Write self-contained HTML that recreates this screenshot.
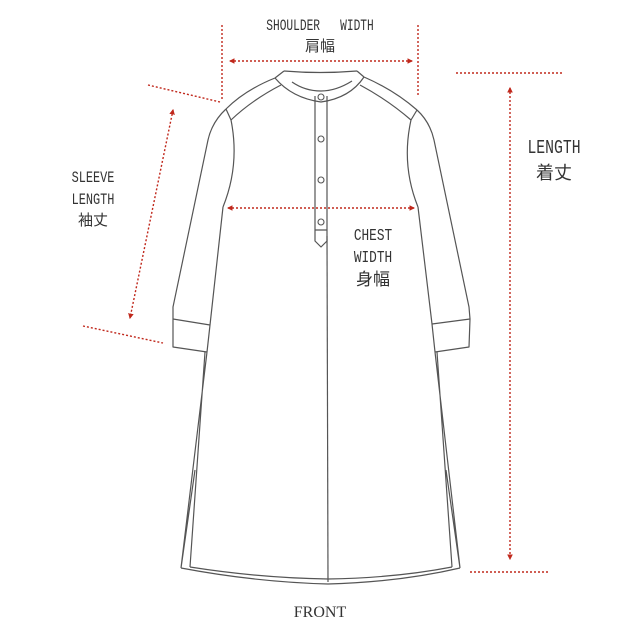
<!DOCTYPE html>
<html><head><meta charset="utf-8"><style>
html,body{margin:0;padding:0;background:#fff}
svg{display:block}
.t{font-family:"Liberation Mono",monospace;fill:#333;text-anchor:middle}
.s{font-family:"Liberation Serif",serif;fill:#333;text-anchor:middle}
.c{font-family:"Liberation Sans","Noto Sans CJK JP",sans-serif;fill:#333;text-anchor:middle}
</style></head><body>
<svg width="640" height="640" viewBox="0 0 640 640" xmlns="http://www.w3.org/2000/svg">
<defs>
<marker id="a" viewBox="0 0 10 10" refX="8" refY="5" markerWidth="4" markerHeight="4" orient="auto-start-reverse"><path d="M0,0L10,5L0,10z" fill="#c0281c"/></marker>
</defs>
<g fill="none" stroke="#555" stroke-width="1.2" stroke-linejoin="round">
<path d="M284,71 Q320,74 357,71"/>
<path d="M275,78 L284,71 M357,71 L364,77"/>
<path d="M275,78 Q292,98 321,102 Q350,98 364,77"/>
<path d="M292,82 Q305,91 321,91 Q336,91 352,81"/>
<path d="M275,78 Q245,90 226,109 M281,85 Q252,100 231,120 M226,109 L231,120"/>
<path d="M364,77 Q394,90 417,110 M360,85 Q388,100 411,120 M417,110 L411,120"/>
<path d="M231,120 Q240,165 223,207"/>
<path d="M411,120 Q401,165 418,207"/>
<path d="M226,109 Q212,122 208,140 L173,307 L173,318 L173,347 L207,352"/>
<path d="M173,319 L210,325"/>
<path d="M223,207 L210,325 L207,352"/>
<path d="M417,110 Q430,122 434,140 L469,307 L470,319 L469,347 L435,352"/>
<path d="M470,319 L432,324"/>
<path d="M418,207 L432,324 L435,352"/>
<path d="M207,352 L181,568 M205,352 L190,567 M195,470 L181,568"/>
<path d="M435,352 L460,568 M437,352 L452,567 M446,470 L460,568"/>
<path d="M181,568 Q255,582 328,584 Q400,582 460,568"/>
<path d="M190,567 Q260,578 328,579 Q395,578 452,567"/>
<path d="M327,236 L328,582"/>
<path d="M315,96 L315,241 L321,247 L327,241 L327,96 M315,230 L327,230"/>
</g>
<g fill="#fff" stroke="#555" stroke-width="1.1">
<circle cx="321" cy="97" r="3"/><circle cx="321" cy="139" r="3"/><circle cx="321" cy="180" r="3"/><circle cx="321" cy="222" r="3"/>
</g>
<g stroke="#c0281c" stroke-width="1.4" stroke-dasharray="2,2" fill="none">
<path d="M222,25 L222,100 M418,25 L418,97"/>
<path d="M230,61 L412,61" marker-start="url(#a)" marker-end="url(#a)"/>
<path d="M228,208 L414,208" marker-start="url(#a)" marker-end="url(#a)"/>
<path d="M148,85 L220,102 M83,326 L163,343"/>
<path d="M173,110 L130,318" marker-start="url(#a)" marker-end="url(#a)"/>
<path d="M456,73 L563,73 M470,572 L550,572"/>
<path d="M510,88 L510,559" marker-start="url(#a)" marker-end="url(#a)"/>
</g>
<text class="t" font-size="14" transform="translate(320 30) scale(0.8 1.1)">SHOULDER&#160;&#160;&#160;WIDTH</text>
<text class="c" x="320" y="51" font-size="15">肩幅</text>
<text class="t" font-size="14" transform="translate(93 182) scale(0.85 1.1)">SLEEVE</text>
<text class="t" font-size="14" transform="translate(93 204) scale(0.85 1.1)">LENGTH</text>
<text class="c" x="93" y="225" font-size="15">袖丈</text>
<text class="t" font-size="15" transform="translate(373 240) scale(0.85 1.1)">CHEST</text>
<text class="t" font-size="15" transform="translate(373 262) scale(0.85 1.1)">WIDTH</text>
<text class="c" x="373" y="285" font-size="17">身幅</text>
<text class="t" font-size="18" transform="translate(554 153) scale(0.82 1.1)">LENGTH</text>
<text class="c" x="554" y="179" font-size="18">着丈</text>
<text class="s" x="320" y="617" font-size="16">FRONT</text>
</svg>
</body></html>
